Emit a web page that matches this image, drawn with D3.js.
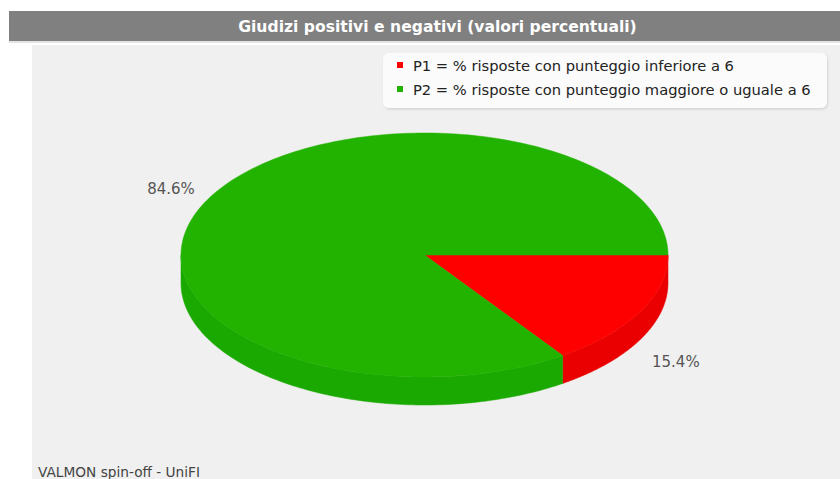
<!DOCTYPE html>
<html><head><meta charset="utf-8">
<script src="https://cdn.jsdelivr.net/npm/d3@7/dist/d3.min.js"></script>
<style>html,body{margin:0;padding:0;background:#fff;}svg{display:block;}</style>
</head><body>
<script>
const title = "Giudizi positivi e negativi (valori percentuali)";
const categories = ["P1", "P2"];
const legendLabels = ["P1 = % risposte con punteggio inferiore a 6",
                      "P2 = % risposte con punteggio maggiore o uguale a 6"];
const values = [15.4, 84.6];
const colors = ["#ff0000", "#22b200"];
const sideColors = ["#ea0000", "#1aa900"];
const footer = "VALMON spin-off - UniFI";

const W = 840, H = 479;
const svg = d3.select("body").append("svg").attr("width", W).attr("height", H);

// title bar
svg.append("rect").attr("x", 9).attr("y", 11).attr("width", W - 9).attr("height", 30).attr("fill", "#808080");
svg.append("rect").attr("x", 9).attr("y", 41).attr("width", W - 9).attr("height", 2).attr("fill", "#e4e4e4");
svg.append("text").attr("x", 437.5).attr("y", 32).attr("text-anchor", "middle")
  .attr("fill", "#fff").attr("font-family", "DejaVu Sans").attr("font-weight", "bold")
  .attr("font-size", 15.6).text(title);

// plot background
svg.append("rect").attr("x", 32).attr("y", 45).attr("width", W - 32).attr("height", H - 45).attr("fill", "#f0f0f0");

// pie geometry
const cx = 424.5, cy = 255, rx = 243.5, ry = 122, depth = 28;
const pie = d3.pie().sort(null).startAngle(Math.PI / 2).endAngle(Math.PI / 2 + 2 * Math.PI);
const arcs = pie(values);
const px = a => cx + rx * Math.sin(a);
const py = a => cy - ry * Math.cos(a);
const line = d3.line();

function sample(a0, a1, n) {
  const pts = [];
  for (let i = 0; i <= n; i++) pts.push(a0 + (a1 - a0) * i / n);
  return pts;
}

// sides (visible lower half: d3 angle in [PI/2, 3PI/2])
const g = svg.append("g");
arcs.forEach((d, i) => {
  const a0 = Math.max(d.startAngle, Math.PI / 2), a1 = Math.min(d.endAngle, 3 * Math.PI / 2);
  if (a1 <= a0) return;
  const ts = sample(a0, a1, 120);
  const top = ts.map(t => [px(t), py(t)]);
  const bot = ts.slice().reverse().map(t => [px(t), py(t) + depth]);
  g.append("path").attr("d", line(top.concat(bot)) + "Z").attr("fill", sideColors[i])
    .attr("stroke", sideColors[i]).attr("stroke-width", 0.5);
});
// tops
arcs.forEach((d, i) => {
  const ts = sample(d.startAngle, d.endAngle, 240);
  const pts = [[cx, cy]].concat(ts.map(t => [px(t), py(t)]));
  g.append("path").attr("d", line(pts) + "Z").attr("fill", colors[i])
    .attr("stroke", colors[i]).attr("stroke-width", 0.5);
});

// labels
arcs.forEach((d, i) => {
  const m = (d.startAngle + d.endAngle) / 2;
  const s = Math.sin(m), c = Math.cos(m);
  const x = cx + s * (rx + (s >= 0 ? 13.5 : 16));
  const y = cy - c * (ry + 22) + (c < 0 ? 40 : 0);
  svg.append("text").attr("x", x).attr("y", y + 5.5)
    .attr("text-anchor", s >= 0 ? "start" : "end")
    .attr("fill", "#555").attr("font-family", "DejaVu Sans").attr("font-size", 15)
    .text(d3.format(".1f")(values[i]) + "%");
});

// legend
const lg = svg.append("g");
const defs = svg.append("defs");
const f = defs.append("filter").attr("id", "sh").attr("x", "-5%").attr("y", "-20%").attr("width", "110%").attr("height", "150%");
f.append("feDropShadow").attr("dx", 1).attr("dy", 1.5).attr("stdDeviation", 1.2).attr("flood-color", "#000").attr("flood-opacity", 0.12);
lg.append("rect").attr("x", 383).attr("y", 53).attr("width", 444).attr("height", 55).attr("rx", 6)
  .attr("fill", "#fbfbfb").attr("filter", "url(#sh)");
categories.forEach((c, i) => {
  lg.append("rect").attr("x", 397).attr("y", 62 + i * 24).attr("width", 6).attr("height", 6).attr("fill", colors[i]);
  lg.append("text").attr("x", 413).attr("y", 70.5 + i * 24).attr("fill", "#222")
    .attr("font-family", "DejaVu Sans").attr("font-size", 14.7).text(legendLabels[i]);
});

// footer
svg.append("text").attr("x", 38).attr("y", 477).attr("fill", "#444")
  .attr("font-family", "DejaVu Sans").attr("font-size", 13.7).text(footer);
</script>
</body></html>
